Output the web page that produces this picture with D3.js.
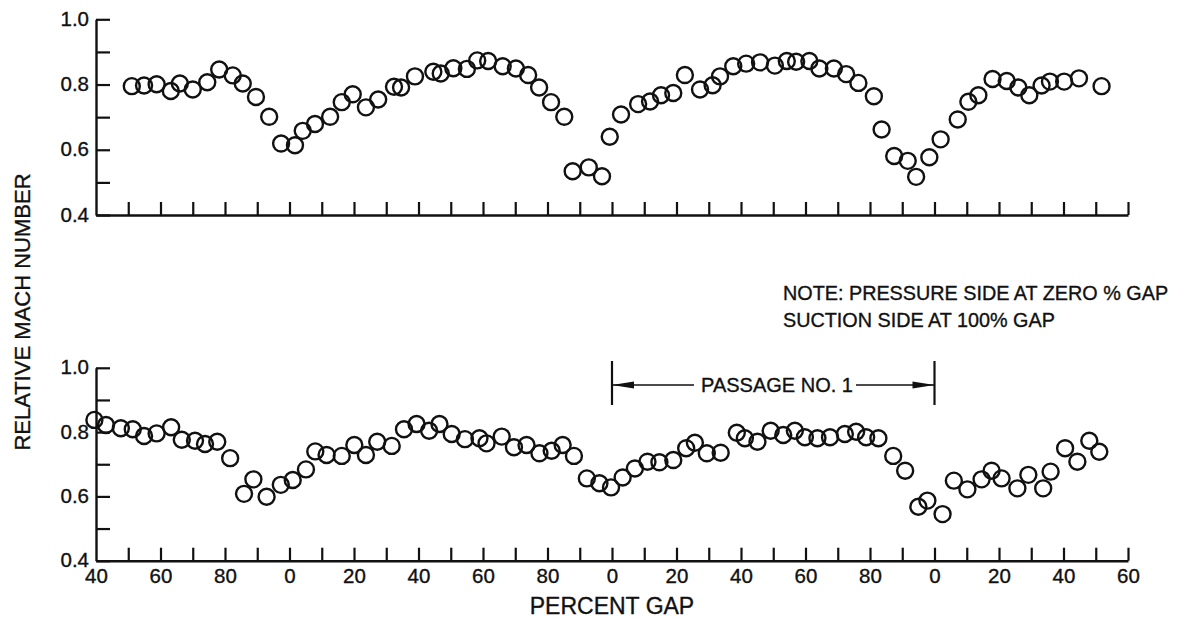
<!DOCTYPE html>
<html>
<head>
<meta charset="utf-8">
<script src="https://cdn.jsdelivr.net/npm/d3@7"></script>
<style>
  html, body { margin: 0; padding: 0; background: #fff; }
  svg text { font-family: "Liberation Sans", Arial, Helvetica, sans-serif; fill: #111; stroke: #111; stroke-width: 0.35px; }
</style>
</head>
<body>
<svg id="chart" width="1181" height="622"></svg>
<script>
// ---- data (percent gap measured continuously across passages; label = value mod 100) ----
const topGap = [51.1,54.9,58.8,63.2,66.0,70.0,74.5,78.2,82.4,85.5,89.6,93.7,97.4,101.7,104.1,107.9,112.6,116.2,119.6,123.7,127.5,132.4,134.6,138.9,144.6,146.9,150.8,155.0,158.2,161.6,166.1,170.2,174.0,177.4,181.1,185.2,187.8,192.8,196.9,199.3,202.8,208.1,211.8,215.2,219.0,222.6,227.3,231.2,233.5,237.6,241.6,245.9,250.5,254.2,257.1,261.2,264.3,268.8,272.6,276.4,281.2,283.6,287.5,291.7,294.3,298.4,301.9,307.2,310.5,313.6,318.0,322.4,326.0,329.4,333.2,335.8,340.2,344.8,351.8];
const topMach = [0.795,0.797,0.801,0.780,0.803,0.785,0.807,0.846,0.828,0.803,0.762,0.701,0.619,0.614,0.658,0.679,0.701,0.746,0.770,0.730,0.754,0.793,0.791,0.825,0.839,0.834,0.850,0.848,0.874,0.872,0.856,0.849,0.829,0.791,0.746,0.701,0.534,0.546,0.519,0.640,0.708,0.740,0.748,0.767,0.774,0.829,0.785,0.798,0.825,0.856,0.864,0.868,0.858,0.872,0.870,0.872,0.849,0.849,0.832,0.805,0.764,0.662,0.581,0.566,0.517,0.577,0.632,0.693,0.747,0.767,0.817,0.811,0.791,0.767,0.797,0.809,0.809,0.819,0.795];
const bottomGap = [39.5,43.1,47.7,51.4,54.9,58.8,63.3,66.6,70.7,73.8,77.6,81.6,85.9,88.8,92.9,97.3,101.0,105.1,108.0,111.5,116.2,120.1,123.7,127.2,131.7,135.5,139.4,143.3,146.5,150.3,154.4,158.9,161.1,165.8,169.6,173.5,177.5,181.3,184.7,188.2,192.2,196.1,199.7,203.3,207.1,211.0,214.7,219.0,223.0,225.7,229.4,233.7,238.7,241.2,245.1,249.2,253.1,256.7,259.8,263.7,267.6,272.2,275.7,278.8,282.6,287.2,290.9,295.0,297.8,302.5,306.0,310.2,314.6,317.7,320.8,325.7,329.1,333.7,336.0,340.5,344.3,348.0,351.1];
const bottomMach = [0.838,0.822,0.812,0.809,0.788,0.796,0.815,0.776,0.773,0.763,0.770,0.719,0.608,0.653,0.599,0.636,0.651,0.684,0.740,0.729,0.726,0.760,0.729,0.770,0.757,0.809,0.825,0.804,0.825,0.794,0.778,0.781,0.765,0.786,0.753,0.760,0.734,0.742,0.760,0.726,0.656,0.641,0.628,0.659,0.687,0.708,0.706,0.713,0.750,0.767,0.734,0.736,0.798,0.781,0.770,0.804,0.791,0.804,0.784,0.781,0.784,0.794,0.801,0.784,0.781,0.726,0.680,0.568,0.587,0.545,0.649,0.622,0.653,0.680,0.656,0.625,0.667,0.625,0.677,0.750,0.708,0.773,0.739];

const xTickValues = [50,60,70,80,90,100,110,120,130,140,150,160,170,180,190,200,210,220,230,240,250,260,270,280,290,300,310,320,330,340,350,360];
const xLabelValues = [40,60,80,100,120,140,160,180,200,220,240,260,280,300,320,340,360];
const xLabelTexts = ["40","60","80","0","20","40","60","80","0","20","40","60","80","0","20","40","60"];
const yTickValues = [0.4,0.5,0.6,0.7,0.8,0.9,1.0];
const yLabelValues = [0.4,0.6,0.8,1.0];
const yLabelTexts = ["0.4","0.6","0.8","1.0"];
const passageRange = [200,300];
const passageText = "PASSAGE NO. 1";
const noteLines = ["NOTE: PRESSURE SIDE AT ZERO % GAP", "SUCTION SIDE AT 100% GAP"];
const yTitle = "RELATIVE MACH NUMBER";
const xTitle = "PERCENT GAP";

// ---- drawing ----
const svg = d3.select("#chart");
const x = d3.scaleLinear().domain([40, 360]).range([96, 1128]);
const yTop = d3.scaleLinear().domain([0.4, 1.0]).range([215, 19.3]);
const yBot = d3.scaleLinear().domain([0.4, 1.0]).range([560.7, 367.8]);
const FONT = '"Liberation Sans", Arial, sans-serif';

function panel(y, gaps, machs, showLabels) {
  const g = svg.append("g");
  const xa = d3.axisBottom(x).tickValues(xTickValues).tickSizeInner(-13).tickSizeOuter(0).tickFormat("");
  const gx = g.append("g").attr("transform", `translate(0,${y(0.4)})`).call(xa);
  gx.select(".domain").attr("stroke", "#111").attr("stroke-width", 2.4);
  gx.selectAll(".tick line").attr("stroke", "#111").attr("stroke-width", 2.2);
  if (showLabels) {
    const xl = d3.axisBottom(x).tickValues(xLabelValues).tickSize(0).tickPadding(8)
      .tickFormat((d, i) => xLabelTexts[i]);
    const gl = g.append("g").attr("transform", `translate(0,${y(0.4)})`).call(xl);
    gl.select(".domain").remove();
    gl.selectAll("text").attr("font-size", 20.5).attr("fill", "#111").style("font-family", FONT);
  }
  const ya = d3.axisLeft(y).tickValues(yTickValues).tickSizeInner(-14).tickSizeOuter(0).tickPadding(7)
    .tickFormat(d => { const i = yLabelValues.findIndex(v => Math.abs(v - d) < 1e-9); return i >= 0 ? yLabelTexts[i] : ""; });
  const gy = g.append("g").attr("transform", `translate(${x(40)},0)`).call(ya);
  gy.select(".domain").attr("stroke", "#111").attr("stroke-width", 2.4);
  gy.selectAll(".tick line").attr("stroke", "#111").attr("stroke-width", 2.2);
  gy.selectAll("text").attr("font-size", 20.5).attr("fill", "#111").attr("dy", "0.3em").style("font-family", FONT);
  const pts = gaps.map((d, i) => ({ gap: d, mach: machs[i] }));
  g.append("g").selectAll("circle").data(pts).join("circle")
    .attr("cx", d => x(d.gap)).attr("cy", d => y(d.mach)).attr("r", 8)
    .attr("fill", "none").attr("stroke", "#111").attr("stroke-width", 2.4);
}

panel(yTop, topGap, topMach, false);
panel(yBot, bottomGap, bottomMach, true);

svg.append("text").attr("transform", "translate(30,312) rotate(-90)")
  .attr("text-anchor", "middle").attr("font-size", 22).text(yTitle);
svg.append("text").attr("x", x(200)).attr("y", 614)
  .attr("text-anchor", "middle").attr("font-size", 23).text(xTitle);

svg.selectAll("text.note").data(noteLines).join("text").attr("class", "note")
  .attr("x", 783).attr("y", (d, i) => 300 + i * 27)
  .attr("font-size", 19.8).text(d => d);

const px0 = x(passageRange[0]), px1 = x(passageRange[1]);
const ay = 385;
const ann = svg.append("g").attr("stroke", "#111");
ann.append("line").attr("x1", px0).attr("x2", px0).attr("y1", 361).attr("y2", 405).attr("stroke-width", 2.2);
ann.append("line").attr("x1", px1).attr("x2", px1).attr("y1", 361).attr("y2", 405).attr("stroke-width", 2.2);
ann.append("line").attr("x1", px0).attr("x2", 694).attr("y1", ay).attr("y2", ay).attr("stroke-width", 1.6);
ann.append("line").attr("x1", 856).attr("x2", px1).attr("y1", ay).attr("y2", ay).attr("stroke-width", 1.6);
ann.append("path").attr("d", `M${px0},${ay} L${px0 + 22},${ay - 3.5} L${px0 + 22},${ay + 3.5} Z`).attr("fill", "#111").attr("stroke", "none");
ann.append("path").attr("d", `M${px1},${ay} L${px1 - 22},${ay - 3.5} L${px1 - 22},${ay + 3.5} Z`).attr("fill", "#111").attr("stroke", "none");
svg.append("text").attr("x", 777).attr("y", ay + 7).attr("text-anchor", "middle")
  .attr("font-size", 20).text(passageText);
</script>
</body>
</html>
